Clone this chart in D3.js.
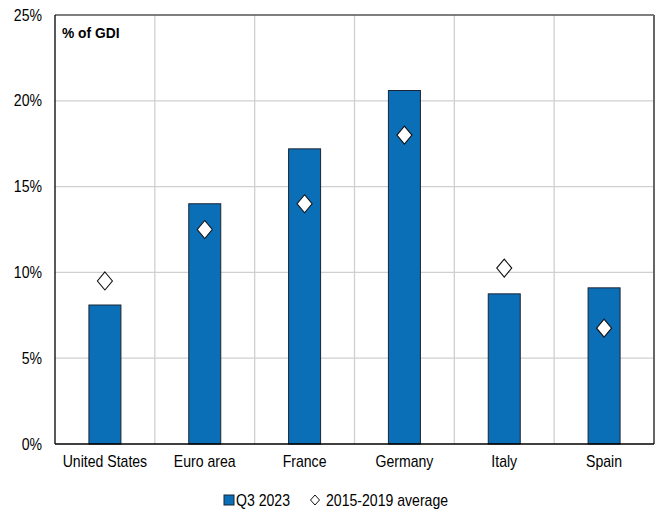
<!DOCTYPE html>
<html>
<head>
<meta charset="utf-8">
<script src="https://cdn.jsdelivr.net/npm/d3@7.9.0/dist/d3.min.js"></script>
<style>
  body { margin: 0; background: #fff; }
  svg { display: block; font-family: "Liberation Sans", Arial, sans-serif; }
</style>
</head>
<body>
<svg id="chart" width="656" height="515"></svg>
<script>
// --- data ---
const countries = ['United States', 'Euro area', 'France', 'Germany', 'Italy', 'Spain'];
const q3_2023   = [8.1, 14.0, 17.2, 20.6, 8.75, 9.1];
const avg1519   = [9.5, 12.5, 14.0, 18.0, 10.25, 6.75];
const yTicks    = [0, 5, 10, 15, 20, 25];

// --- layout ---
const m = { left: 55, right: 2, top: 15, bottom: 71 };
const W = 656, H = 515;
const svg = d3.select('#chart');
const sx = 0.88; // labels look slightly condensed

const x = d3.scaleBand().domain(countries).range([m.left, W - m.right]).paddingInner(0).paddingOuter(0);
const y = d3.scaleLinear().domain([0, 25]).range([H - m.bottom, m.top]);
const barW = 32;

// grid lines
svg.append('g')
  .selectAll('line')
  .data(yTicks.filter(d => d > 0 && d < 25))
  .join('line')
  .attr('x1', m.left).attr('x2', W - m.right)
  .attr('y1', d => y(d)).attr('y2', d => y(d))
  .attr('stroke', '#d0d0d0').attr('stroke-width', 1.3);

svg.append('g')
  .selectAll('line')
  .data(countries.slice(1))
  .join('line')
  .attr('x1', d => x(d)).attr('x2', d => x(d))
  .attr('y1', m.top).attr('y2', H - m.bottom)
  .attr('stroke', '#d0d0d0').attr('stroke-width', 1.3);

// bars
svg.append('g')
  .selectAll('rect')
  .data(countries)
  .join('rect')
  .attr('x', d => x(d) + x.bandwidth() / 2 - barW / 2)
  .attr('width', barW)
  .attr('y', (d, i) => y(q3_2023[i]))
  .attr('height', (d, i) => y(0) - y(q3_2023[i]))
  .attr('fill', '#0b6fb8')
  .attr('stroke', '#1c2433').attr('stroke-width', 1);

// diamonds
const diamond = 'M0,-9L7.5,0L0,9L-7.5,0Z';
svg.append('g')
  .selectAll('path')
  .data(countries)
  .join('path')
  .attr('d', diamond)
  .attr('transform', (d, i) => `translate(${x(d) + x.bandwidth() / 2},${y(avg1519[i])})`)
  .attr('fill', '#fff')
  .attr('stroke', '#111').attr('stroke-width', 1.1);

// frame
svg.append('line').attr('x1', m.left).attr('x2', W - m.right).attr('y1', m.top).attr('y2', m.top)
  .attr('stroke', '#555').attr('stroke-width', 1.3);
svg.append('line').attr('x1', W - m.right).attr('x2', W - m.right).attr('y1', m.top).attr('y2', H - m.bottom)
  .attr('stroke', '#666').attr('stroke-width', 2);
svg.append('line').attr('x1', m.left).attr('x2', m.left).attr('y1', m.top).attr('y2', H - m.bottom)
  .attr('stroke', '#000').attr('stroke-width', 1.3);
svg.append('line').attr('x1', m.left).attr('x2', W - m.right).attr('y1', H - m.bottom).attr('y2', H - m.bottom)
  .attr('stroke', '#000').attr('stroke-width', 1.5);

// y labels
svg.append('g')
  .selectAll('text')
  .data(yTicks)
  .join('text')
  .attr('transform', d => `translate(42,${y(d) + 5.5}) scale(${sx},1)`)
  .attr('text-anchor', 'end')
  .attr('font-size', 16)
  .attr('fill', '#000')
  .text(d => d + '%');

// x labels
svg.append('g')
  .selectAll('text')
  .data(countries)
  .join('text')
  .attr('transform', d => `translate(${x(d) + x.bandwidth() / 2},${H - m.bottom + 23}) scale(${sx},1)`)
  .attr('text-anchor', 'middle')
  .attr('font-size', 16)
  .attr('fill', '#000')
  .text(d => d);

// unit label
svg.append('text')
  .attr('transform', `translate(62,38) scale(0.92,1)`)
  .attr('font-size', 15).attr('font-weight', 'bold')
  .text('% of GDI');

// legend
const lg = svg.append('g').attr('transform', 'translate(0,506)');
lg.append('rect').attr('x', 224).attr('y', -11).attr('width', 10).attr('height', 10)
  .attr('fill', '#0b6fb8').attr('stroke', '#1c2433').attr('stroke-width', 1);
lg.append('text').attr('transform', `translate(236,0) scale(${sx},1)`).attr('font-size', 16).text('Q3 2023');
lg.append('path').attr('d', 'M0,-5L4.5,0L0,5L-4.5,0Z')
  .attr('transform', 'translate(315,-6)')
  .attr('fill', '#fff').attr('stroke', '#111').attr('stroke-width', 1);
lg.append('text').attr('transform', `translate(326,0) scale(${sx},1)`).attr('font-size', 16).text('2015-2019 average');
</script>
</body>
</html>
